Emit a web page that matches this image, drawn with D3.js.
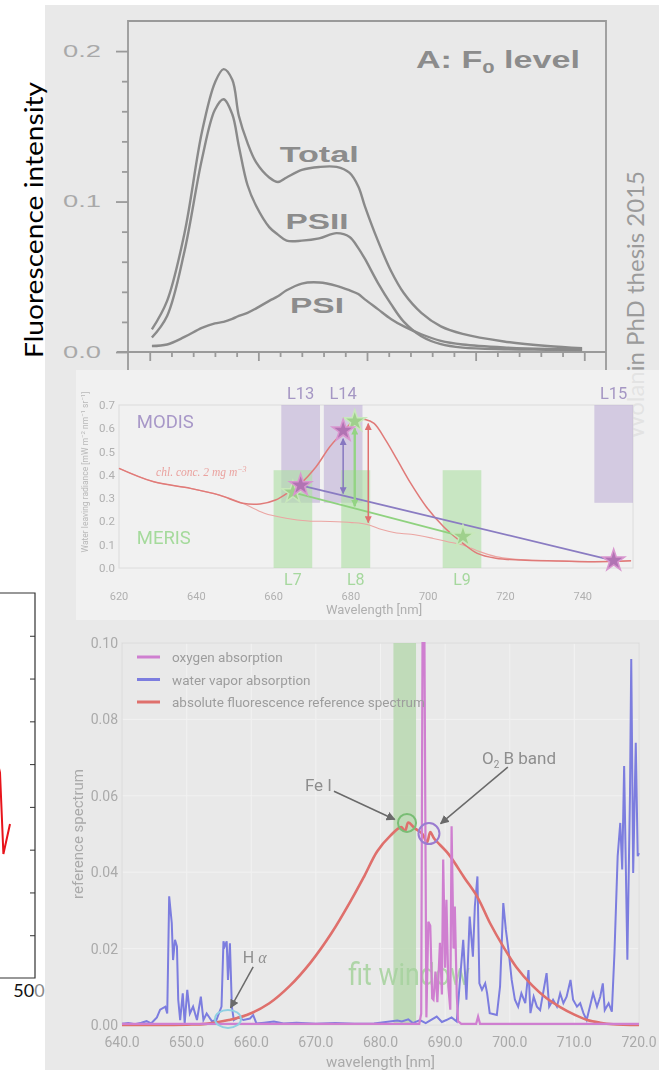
<!DOCTYPE html>
<html><head><meta charset="utf-8">
<script src="https://cdn.jsdelivr.net/npm/d3@7"></script>
<style>
html,body{margin:0;padding:0;background:#fff;}
svg{display:block;}
</style></head><body>
<svg id="fig" width="659" height="1070"></svg>
<script>
// ---------- left spectrum (only its right edge is in view) ----------
const leftTickValues = [1, 2, 3, 4, 5, 6, 7, 8];
const leftSpecWl = [480.5, 482.5, 484.2, 487.5];
const leftSpecVal = [5.2, 4.8, 2.9, 3.6];

// ---------- panel A: F0 level fluorescence spectra ----------
const topWavelength = [651, 658, 666, 674, 680, 684, 688, 691, 695, 699, 705, 709, 713, 720, 728, 736, 742, 746, 749, 755, 761, 767, 775, 784, 794, 813, 833, 849];
const totalF0 = [0.015, 0.034, 0.079, 0.146, 0.179, 0.188, 0.181, 0.157, 0.139, 0.126, 0.116, 0.113, 0.116, 0.121, 0.123, 0.123, 0.119, 0.110, 0.097, 0.074, 0.054, 0.039, 0.026, 0.017, 0.012, 0.007, 0.004, 0.0025];
const psiiF0 = [0.0096, 0.024, 0.067, 0.128, 0.161, 0.168, 0.158, 0.137, 0.111, 0.097, 0.083, 0.078, 0.074, 0.074, 0.0755, 0.079, 0.0765, 0.069, 0.062, 0.046, 0.032, 0.020, 0.0105, 0.0052, 0.0029, 0.0018, 0.0015, 0.0013];
const psiF0 = [0.004, 0.005, 0.010, 0.016, 0.019, 0.020, 0.022, 0.024, 0.026, 0.029, 0.034, 0.037, 0.041, 0.0455, 0.0462, 0.044, 0.041, 0.0385, 0.035, 0.0285, 0.022, 0.017, 0.0118, 0.0074, 0.005, 0.003, 0.002, 0.0018];
const topYMajor = [0, 0.1, 0.2];
const topYMinor = [0.02, 0.04, 0.06, 0.08, 0.12, 0.14, 0.16, 0.18];
const topXMajor = [650, 700, 750, 800, 850];
const topXMinor = [660, 670, 680, 690, 710, 720, 730, 740, 760, 770, 780, 790, 810, 820, 830, 840];

// ---------- water leaving radiance with MODIS / MERIS bands ----------
const radWlHigh = [620, 629, 638.5, 646, 652, 656.5, 660.5, 664, 667, 671, 674.5, 678, 681, 683.7, 686, 689, 692, 695.5, 699.5, 704, 709, 712.7, 717.5, 724, 733.7, 743, 752.5];
const radianceHigh = [0.428, 0.37, 0.342, 0.313, 0.278, 0.275, 0.292, 0.327, 0.363, 0.435, 0.52, 0.585, 0.635, 0.638, 0.621, 0.549, 0.464, 0.363, 0.263, 0.177, 0.106, 0.063, 0.042, 0.034, 0.03, 0.027, 0.031];
const radWlLow = [620, 629, 638.5, 646, 652, 657.6, 663.2, 669, 674.6, 680.3, 684.2, 688, 691.8, 695.6, 701.3, 705, 709, 712.7, 717.5, 724, 733.7, 743, 752.5];
const radianceLow = [0.428, 0.37, 0.342, 0.313, 0.278, 0.235, 0.214, 0.202, 0.2, 0.195, 0.187, 0.165, 0.15, 0.145, 0.127, 0.113, 0.099, 0.074, 0.049, 0.036, 0.03, 0.027, 0.031];
const modisBandNames = ['L13', 'L14', 'L15'];
const modisBandFrom = [662, 673, 743];
const modisBandTo = [672, 683, 753];
const modisBandRange = [0.28, 0.7];
const merisBandNames = ['L7', 'L8', 'L9'];
const merisBandFrom = [660, 677.5, 703.75];
const merisBandTo = [670, 685, 713.75];
const merisBandRange = [0, 0.42];
const modisStarWl = [667, 678, 748];
const modisStarVal = [0.355, 0.59, 0.032];
const merisStarWl = [665, 681, 709];
const merisStarVal = [0.325, 0.63, 0.135];
const heightWl = [678, 681, 684.5];
const heightTop = [0.555, 0.60, 0.62];
const heightBottom = [0.32, 0.265, 0.195];
const radYTicks = [0, 0.1, 0.2, 0.3, 0.4, 0.5, 0.6, 0.7];
const radXTicks = [620, 640, 660, 680, 700, 720, 740];

// ---------- reference spectra ----------
const vaporWl = [640, 641, 642, 643, 643.8, 644.5, 645.4, 645.9, 646.7, 647.0, 647.3, 647.7, 647.9, 648.2, 648.5, 648.7, 649.0, 649.4, 649.7, 650.1, 650.5, 651.0, 651.6, 652.2, 652.6, 653.1, 653.9, 654.6, 655.4, 655.7, 655.9, 656.2, 656.4, 656.7, 657.0, 657.3, 658.0, 658.8, 659.8, 660.3, 660.8, 662, 663.5, 665, 667, 670, 673, 676, 679, 682.6, 683.3, 684.3, 685, 686.1, 687, 688.7, 689.5, 690.2, 691, 691.8, 692.3, 692.8, 693.3, 693.8, 694.3, 694.6, 695.0, 695.3, 695.7, 696.2, 696.5, 696.9, 698.0, 698.5, 699.0, 699.4, 699.8, 700.3, 700.8, 701.3, 701.8, 702.4, 702.9, 703.2, 703.7, 704.2, 704.7, 705.7, 706.1, 706.7, 707.3, 707.8, 708.3, 708.8, 709.4, 709.8, 710.4, 710.9, 711.4, 711.9, 712.4, 712.9, 713.5, 714.0, 714.4, 714.7, 715.3, 715.8, 716.2, 716.7, 717.1, 717.4, 717.7, 718.2, 718.6, 718.8, 719.1, 719.5, 719.8, 720];
const vaporVal = [0.0003, 0.0005, 0.0002, 0.0006, 0.001, 0.0004, 0.002, 0.004, 0.0048, 0.003, 0.0337, 0.0267, 0.017, 0.0223, 0.0206, 0.0066, 0.0013, 0.0083, 0.0004, 0.0092, 0.003, 0.0048, 0.0013, 0.0074, 0.0013, 0.003, 0.001, 0.0013, 0.0048, 0.0219, 0.0206, 0.0219, 0.0118, 0.0214, 0.0048, 0.0013, 0.002, 0.0013, 0.0017, 0.0026, 0.0004, 0.0006, 0.0009, 0.0004, 0.0006, 0.0003, 0.0005, 0.0003, 0.0004, 0.0012, 0.0009, 0.0015, 0.0005, 0.0013, 0.0005, 0.0022, 0.0008, 0.0013, 0.002, 0.0009, 0.0118, 0.0223, 0.0066, 0.0284, 0.0179, 0.0311, 0.0389, 0.0109, 0.0092, 0.0109, 0.0083, 0.0031, 0.0026, 0.0101, 0.0319, 0.0249, 0.0197, 0.0118, 0.0066, 0.0048, 0.0083, 0.0057, 0.0144, 0.0031, 0.0074, 0.0048, 0.0039, 0.0136, 0.0048, 0.0066, 0.0048, 0.0083, 0.0057, 0.0074, 0.0118, 0.0066, 0.0048, 0.0057, 0.0031, 0.0013, 0.0048, 0.0083, 0.0048, 0.0074, 0.0109, 0.0039, 0.0057, 0.0035, 0.0188, 0.0442, 0.0529, 0.0407, 0.0678, 0.0171, 0.0599, 0.0958, 0.0398, 0.0739, 0.0442, 0.045];
const oxygenWl = [640, 686.0, 686.3, 686.5, 686.8, 687.1, 687.4, 687.7, 688.0, 688.2, 688.5, 688.8, 689.2, 689.5, 689.7, 690.0, 690.2, 690.5, 690.8, 691.0, 691.3, 691.5, 691.8, 692.0, 692.5, 694.8, 695.1, 695.4, 720];
const oxygenVal = [0.0003, 0.0003, 0.003, 0.1, 0.1, 0.002, 0.027, 0.026, 0.007, 0.0066, 0.014, 0.006, 0.0215, 0.008, 0.0433, 0.015, 0.0328, 0.01, 0.004, 0.052, 0.02, 0.031, 0.008, 0.001, 0.0003, 0.0003, 0.0022, 0.0003, 0.0003];
const fluorWl = [640, 645, 650, 653, 656.5, 659.3, 662.8, 666, 669.2, 672.4, 675.5, 677.5, 679.5, 681.5, 683.2, 683.8, 684.3, 685.3, 686.5, 687.2, 687.7, 688.3, 690.5, 693, 695, 697, 699, 701, 703.5, 705.7, 707.8, 710, 712, 714, 716, 720];
const fluorVal = [0, 0, 0.0001, 0.0003, 0.0013, 0.0026, 0.0057, 0.0103, 0.0164, 0.024, 0.0328, 0.039, 0.0455, 0.0495, 0.0518, 0.0508, 0.053, 0.0515, 0.05, 0.0478, 0.0505, 0.0488, 0.0448, 0.0385, 0.0335, 0.0265, 0.0205, 0.0152, 0.0103, 0.007, 0.0047, 0.0027, 0.0013, 0.0006, 0.0002, 0];
const fitWindow = [682, 685.5];
const refYTicks = [0, 0.02, 0.04, 0.06, 0.08, 0.10];
const refXTicks = [640, 650, 660, 670, 680, 690, 700, 710, 720];
const legendNames = ['oxygen absorption', 'water vapor absorption', 'absolute fluorescence reference spectrum'];
const legendColors = ['#cf7fd0', '#7c7ddf', '#df6f6c'];

const svg = d3.select('#fig');
const zip = (a, b) => a.map((v, i) => [v, b[i]]);
const SANS = 'Roboto, "Liberation Sans", sans-serif';
const defs = svg.append('defs');

svg.append('rect').attr('width', 659).attr('height', 1070).attr('fill', '#fff');

// ---------- left spectrum ----------
const leftX = d3.scaleLinear().domain([480, 500]).range([-5, 35]);
const leftY = d3.scaleLinear().domain([0, 9]).range([978, 593]);
const leftG = svg.append('g');
leftG.append('path')
  .attr('d', `M-2,${leftY(9)}H${leftX(500)}V${leftY(0)}H-2`)
  .attr('fill', 'none').attr('stroke', '#333').attr('stroke-width', 1.2);
leftG.append('g').attr('transform', `translate(${leftX(500)},0)`)
  .call(d3.axisLeft(leftY).tickValues(leftTickValues).tickSize(5).tickFormat(''))
  .call(g => g.select('.domain').remove())
  .call(g => g.selectAll('line').attr('stroke', '#333'));
leftG.append('path').datum(zip(leftSpecWl, leftSpecVal))
  .attr('d', d3.line().x(d => leftX(d[0])).y(d => leftY(d[1])))
  .attr('fill', 'none').attr('stroke', '#e8141b').attr('stroke-width', 2);
leftG.append('text').attr('x', leftX(500) - 6).attr('y', 997).attr('text-anchor', 'middle')
  .attr('font-family', 'Lato, sans-serif').attr('font-size', 18).attr('fill', '#111')
  .html('50<tspan fill="#8a8a8a">0</tspan>');

// grey backdrop of the right column
svg.append('rect').attr('x', 45).attr('y', 5).attr('width', 614).attr('height', 1065).attr('fill', '#e9e9e9');

svg.append('text').attr('transform', 'translate(43,358) rotate(-90)')
  .attr('font-family', 'Lato, sans-serif').attr('font-size', 25).attr('fill', '#000')
  .attr('textLength', 276).attr('lengthAdjust', 'spacingAndGlyphs')
  .text('Fluorescence intensity');

// ---------- panel A ----------
const topX = d3.scaleLinear().domain([640, 860]).range([128, 606]);
const topY = d3.scaleLinear().domain([0, 0.22]).range([352, 21]);
const panelA = svg.append('g');
const axCol = '#9a9a9a';
panelA.append('path')
  .attr('d', `M${topX(640)},370V${topY(0.22)}H${topX(860)}V370M117,${topY(0)}H${topX(860)}`)
  .attr('fill', 'none').attr('stroke', axCol).attr('stroke-width', 1.8);
panelA.append('g').attr('transform', `translate(${topX(640)},0)`)
  .call(d3.axisLeft(topY).tickValues(topYMajor).tickSize(12).tickPadding(15).tickFormat(d3.format('.1f')))
  .call(g => g.select('.domain').remove())
  .call(g => g.selectAll('line').attr('stroke', axCol).attr('stroke-width', 1.8))
  .call(g => g.selectAll('text').attr('fill', '#a9a9a9').attr('font-size', 16)
    .attr('font-family', 'Liberation Sans, Arial, sans-serif')
    .attr('textLength', 38).attr('lengthAdjust', 'spacingAndGlyphs'));
panelA.append('g').attr('transform', `translate(${topX(640)},0)`)
  .call(d3.axisLeft(topY).tickValues(topYMinor).tickSize(6).tickFormat(''))
  .call(g => g.select('.domain').remove())
  .call(g => g.selectAll('line').attr('stroke', axCol).attr('stroke-width', 1.8));
panelA.append('g').attr('transform', `translate(0,${topY(0)})`)
  .call(d3.axisBottom(topX).tickValues(topXMajor).tickSize(9).tickFormat(''))
  .call(g => g.select('.domain').remove())
  .call(g => g.selectAll('line').attr('stroke', axCol).attr('stroke-width', 1.8));
panelA.append('g').attr('transform', `translate(0,${topY(0)})`)
  .call(d3.axisBottom(topX).tickValues(topXMinor).tickSize(5).tickFormat(''))
  .call(g => g.select('.domain').remove())
  .call(g => g.selectAll('line').attr('stroke', axCol).attr('stroke-width', 1.8));

const topLine = d3.line().x(d => topX(d[0])).y(d => topY(d[1])).curve(d3.curveCatmullRom.alpha(0.5));
[totalF0, psiiF0, psiF0].forEach(series => {
  panelA.append('path').datum(zip(topWavelength, series)).attr('d', topLine)
    .attr('fill', 'none').attr('stroke', '#8a8a8a').attr('stroke-width', 2.4);
});
const bold = sel => sel.attr('font-family', 'Liberation Sans, Arial, sans-serif').attr('font-weight', 'bold')
  .attr('fill', '#8c8c8c').attr('font-size', 22).attr('lengthAdjust', 'spacingAndGlyphs');
panelA.append('text').attr('x', topX(728)).attr('y', topY(0.126)).attr('text-anchor', 'middle').call(bold)
  .attr('textLength', 79).text('Total');
panelA.append('text').attr('x', topX(727)).attr('y', topY(0.0818)).attr('text-anchor', 'middle').call(bold)
  .attr('textLength', 63).text('PSII');
panelA.append('text').attr('x', topX(727)).attr('y', topY(0.026)).attr('text-anchor', 'middle').call(bold)
  .attr('textLength', 54).text('PSI');
panelA.append('text').attr('x', topX(848)).attr('y', topY(0.189)).attr('text-anchor', 'end').call(bold)
  .attr('font-size', 23).attr('textLength', 164)
  .html('A: F<tspan font-size="15" dy="5">0</tspan><tspan dy="-5"> level</tspan>');

// watermark
svg.append('text').attr('transform', 'translate(644,171) rotate(-90)').attr('text-anchor', 'end')
  .attr('font-family', 'Lato, sans-serif').attr('font-size', 24).attr('fill', '#9b9b9b')
  .text('Wolanin PhD thesis 2015');

// ---------- radiance panel ----------
svg.append('rect').attr('x', 76).attr('y', 370).attr('width', 583).attr('height', 250)
  .attr('fill', '#f3f3f3').attr('opacity', 0.82);
const midX = d3.scaleLinear().domain([620, 753]).range([119, 633]);
const midY = d3.scaleLinear().domain([0, 0.7]).range([568, 405]);
defs.append('filter').attr('id', 'soft').append('feGaussianBlur').attr('stdDeviation', 0.45);
function marker(id, color, size) {
  defs.append('marker').attr('id', id).attr('viewBox', '0 0 10 10').attr('refX', 9).attr('refY', 5)
    .attr('markerWidth', size).attr('markerHeight', size).attr('orient', 'auto-start-reverse')
    .attr('markerUnits', 'userSpaceOnUse')
    .append('path').attr('d', 'M0,0L10,5L0,10z').attr('fill', color);
}
marker('arPurple', '#8677c0', 7);
marker('arRed', '#e07070', 7);
marker('arGreen', '#93d483', 7);
marker('arGrey', '#6a6a6a', 9);
const mid = svg.append('g').attr('filter', 'url(#soft)');

mid.append('rect').attr('x', midX(620)).attr('y', midY(0.7)).attr('width', midX(753) - midX(620))
  .attr('height', midY(0) - midY(0.7)).attr('fill', '#f1f1f1').attr('stroke', '#dcdcdc');
modisBandNames.forEach((n, i) => {
  mid.append('rect').attr('x', midX(modisBandFrom[i])).attr('width', midX(modisBandTo[i]) - midX(modisBandFrom[i]))
    .attr('y', midY(modisBandRange[1])).attr('height', midY(modisBandRange[0]) - midY(modisBandRange[1]))
    .attr('fill', '#b9a9d4').attr('opacity', 0.55);
  mid.append('text').attr('x', midX((modisBandFrom[i] + modisBandTo[i]) / 2)).attr('y', 399)
    .attr('text-anchor', 'middle').attr('font-family', SANS).attr('font-size', 16.5).attr('fill', '#a597c4').text(n);
});
merisBandNames.forEach((n, i) => {
  mid.append('rect').attr('x', midX(merisBandFrom[i])).attr('width', midX(merisBandTo[i]) - midX(merisBandFrom[i]))
    .attr('y', midY(merisBandRange[1])).attr('height', midY(merisBandRange[0]) - midY(merisBandRange[1]))
    .attr('fill', '#aee0a4').attr('opacity', 0.6);
  mid.append('text').attr('x', midX((merisBandFrom[i] + merisBandTo[i]) / 2)).attr('y', 585)
    .attr('text-anchor', 'middle').attr('font-family', SANS).attr('font-size', 16).attr('fill', '#a6d89e').text(n);
});
const smallTxt = sel => sel.attr('font-family', SANS).attr('font-size', 11.5).attr('fill', '#b0b0b0');
radYTicks.forEach(t => mid.append('text').attr('x', 115).attr('y', midY(t) + 4).attr('text-anchor', 'end')
  .call(smallTxt).text(d3.format('.1f')(t)));
radXTicks.forEach(t => mid.append('text').attr('x', midX(t)).attr('y', 600).attr('text-anchor', 'middle')
  .call(smallTxt).attr('font-size', 11).text(t));
mid.append('text').attr('x', midX(686)).attr('y', 614).attr('text-anchor', 'middle').call(smallTxt)
  .attr('font-size', 13).text('Wavelength [nm]');
mid.append('text').attr('transform', 'translate(88,472) rotate(-90)').attr('text-anchor', 'middle')
  .call(smallTxt).attr('font-size', 8.5).attr('fill', '#b8b8b8')
  .html('Water leaving radiance [mW m<tspan dy="-3" font-size="6">−2</tspan><tspan dy="3"> nm</tspan><tspan dy="-3" font-size="6">−1</tspan><tspan dy="3"> sr</tspan><tspan dy="-3" font-size="6">−1</tspan><tspan dy="3">]</tspan>');
mid.append('text').attr('x', midX(624.6)).attr('y', midY(0.6)).attr('font-family', SANS)
  .attr('font-size', 18.5).attr('fill', '#a898c8').text('MODIS');
mid.append('text').attr('x', midX(624.6)).attr('y', midY(0.103)).attr('font-family', SANS)
  .attr('font-size', 18.5).attr('fill', '#a5da9c').text('MERIS');
mid.append('text').attr('x', midX(629.6)).attr('y', midY(0.395)).attr('font-family', 'Liberation Serif, serif')
  .attr('font-style', 'italic').attr('font-size', 11.5).attr('fill', '#eaa29f')
  .html('chl. conc. 2 mg m<tspan dy="-4" font-size="8">−3</tspan>');

const midLine = d3.line().x(d => midX(d[0])).y(d => midY(d[1])).curve(d3.curveCatmullRom.alpha(0.5));
mid.append('path').datum(zip(radWlLow, radianceLow)).attr('d', midLine)
  .attr('fill', 'none').attr('stroke', '#eba5a2').attr('stroke-width', 1.1);
mid.append('path').datum(zip(radWlHigh, radianceHigh)).attr('d', midLine)
  .attr('fill', 'none').attr('stroke', '#e07a78').attr('stroke-width', 1.5);
mid.append('line').attr('x1', midX(modisStarWl[0])).attr('y1', midY(modisStarVal[0]))
  .attr('x2', midX(modisStarWl[2])).attr('y2', midY(modisStarVal[2])).attr('stroke', '#8a7cc2').attr('stroke-width', 1.8);
mid.append('line').attr('x1', midX(merisStarWl[0])).attr('y1', midY(merisStarVal[0]))
  .attr('x2', midX(merisStarWl[2])).attr('y2', midY(merisStarVal[2])).attr('stroke', '#8fd27f').attr('stroke-width', 1.8);
const arrowCols = ['#8677c0', '#93d483', '#e07070'];
const arrowIds = ['arPurple', 'arGreen', 'arRed'];
heightWl.forEach((w, i) => {
  mid.append('line').attr('x1', midX(w)).attr('x2', midX(w)).attr('y1', midY(heightTop[i])).attr('y2', midY(heightBottom[i]))
    .attr('stroke', arrowCols[i]).attr('stroke-width', i === 1 ? 2.4 : 1.5)
    .attr('marker-start', `url(#${arrowIds[i]})`).attr('marker-end', `url(#${arrowIds[i]})`);
});
const star = d3.symbol().type(d3.symbolStar).size(150);
merisStarWl.forEach((w, i) => mid.append('path').attr('d', star)
  .attr('transform', `translate(${midX(w)},${midY(merisStarVal[i])})`)
  .attr('fill', '#9fd08c').attr('stroke', '#c8e8bb').attr('stroke-width', 1.5));
modisStarWl.forEach((w, i) => mid.append('path').attr('d', star)
  .attr('transform', `translate(${midX(w)},${midY(modisStarVal[i])})`)
  .attr('fill', '#b173b3').attr('stroke', '#d996cf').attr('stroke-width', 1.5));

// ---------- reference spectra panel ----------
const botX = d3.scaleLinear().domain([640, 720]).range([122, 639]);
const botY = d3.scaleLinear().domain([0, 0.10]).range([1025, 643]);
const bot = svg.append('g').attr('filter', 'url(#soft)');
refXTicks.forEach(t => bot.append('line').attr('x1', botX(t)).attr('x2', botX(t)).attr('y1', botY(0)).attr('y2', botY(0.1))
  .attr('stroke', '#f2f2f2').attr('stroke-width', 1));
refYTicks.forEach(t => bot.append('line').attr('y1', botY(t)).attr('y2', botY(t)).attr('x1', botX(640)).attr('x2', botX(720))
  .attr('stroke', '#f2f2f2').attr('stroke-width', 1));
bot.append('rect').attr('x', botX(640)).attr('y', botY(0.1)).attr('width', botX(720) - botX(640))
  .attr('height', botY(0) - botY(0.1)).attr('fill', 'none').attr('stroke', '#d8d8d8');
bot.append('rect').attr('x', botX(fitWindow[0])).attr('width', botX(fitWindow[1]) - botX(fitWindow[0]))
  .attr('y', botY(0.1)).attr('height', botY(0) - botY(0.1)).attr('fill', '#b5d7ad').attr('opacity', 0.8);
bot.append('text').attr('x', botX(675)).attr('y', botY(0.0105)).attr('font-family', SANS)
  .attr('font-size', 32).attr('textLength', 122).attr('lengthAdjust', 'spacingAndGlyphs')
  .attr('fill', '#a5d29d').attr('opacity', 0.85).text('fit window');

const botLine = d3.line().x(d => botX(d[0])).y(d => botY(d[1]));
bot.append('path').datum(zip(vaporWl, vaporVal)).attr('d', botLine)
  .attr('fill', 'none').attr('stroke', legendColors[1]).attr('stroke-width', 2);
bot.append('path').datum(zip(fluorWl, fluorVal))
  .attr('d', d3.line().x(d => botX(d[0])).y(d => botY(d[1])).curve(d3.curveCatmullRom.alpha(0.5)))
  .attr('fill', 'none').attr('stroke', legendColors[2]).attr('stroke-width', 2.6);
bot.append('path').datum(zip(oxygenWl, oxygenVal)).attr('d', botLine)
  .attr('fill', 'none').attr('stroke', legendColors[0]).attr('stroke-width', 2.2);

const tickTxt = sel => sel.attr('font-family', SANS).attr('font-size', 14).attr('fill', '#aaaaaa');
refYTicks.forEach(t => bot.append('text').attr('x', 118).attr('y', botY(t) + 5).attr('text-anchor', 'end')
  .call(tickTxt).text(d3.format('.2f')(t)));
refXTicks.forEach(t => bot.append('text').attr('x', botX(t)).attr('y', 1047).attr('text-anchor', 'middle')
  .call(tickTxt).text(d3.format('.1f')(t)));
bot.append('text').attr('x', botX(680)).attr('y', 1067).attr('text-anchor', 'middle').call(tickTxt)
  .attr('font-size', 15).text('wavelength [nm]');
bot.append('text').attr('transform', `translate(83,${botY(0.05)}) rotate(-90)`).attr('text-anchor', 'middle')
  .call(tickTxt).attr('font-size', 15).text('reference spectrum');

legendNames.forEach((n, i) => {
  const y = 657 + i * 22.5;
  bot.append('line').attr('x1', 137).attr('x2', 160).attr('y1', y).attr('y2', y)
    .attr('stroke', legendColors[i]).attr('stroke-width', 3);
  bot.append('text').attr('x', 172).attr('y', y + 5).call(tickTxt).attr('font-size', 13.5).attr('fill', '#9d9d9d').text(n);
});

// annotations
const note = sel => sel.attr('font-family', SANS).attr('fill', '#8e8e8e');
bot.append('ellipse').attr('cx', botX(656.4)).attr('cy', botY(0.0016)).attr('rx', 13).attr('ry', 9)
  .attr('fill', 'none').attr('stroke', '#8fd0e2').attr('stroke-width', 2);
bot.append('text').attr('x', botX(658.7)).attr('y', botY(0.0163)).call(note).attr('font-size', 16)
  .html('H <tspan font-family="Liberation Serif, serif" font-style="italic">α</tspan>');
bot.append('line').attr('x1', botX(660.3)).attr('y1', botY(0.0152)).attr('x2', botX(656.8)).attr('y2', botY(0.0045))
  .attr('stroke', '#6a6a6a').attr('stroke-width', 1.5).attr('marker-end', 'url(#arGrey)');

bot.append('circle').attr('cx', botX(684.1)).attr('cy', botY(0.0529)).attr('r', 9)
  .attr('fill', 'none').attr('stroke', '#79bd74').attr('stroke-width', 2);
bot.append('text').attr('x', botX(668.3)).attr('y', botY(0.0612)).call(note).attr('font-size', 17).text('Fe I');
bot.append('line').attr('x1', botX(672.8)).attr('y1', botY(0.0612)).attr('x2', botX(682.2)).attr('y2', botY(0.0538))
  .attr('stroke', '#6a6a6a').attr('stroke-width', 1.5).attr('marker-end', 'url(#arGrey)');

bot.append('circle').attr('cx', botX(687.5)).attr('cy', botY(0.0501)).attr('r', 10.5)
  .attr('fill', 'none').attr('stroke', '#9a7cd0').attr('stroke-width', 2);
bot.append('text').attr('x', botX(695.7)).attr('y', botY(0.0682)).call(note).attr('font-size', 17)
  .html('O<tspan font-size="10" dy="4">2</tspan><tspan dy="-4"> B band</tspan>');
bot.append('line').attr('x1', botX(699.7)).attr('y1', botY(0.0675)).attr('x2', botX(689.3)).attr('y2', botY(0.0527))
  .attr('stroke', '#6a6a6a').attr('stroke-width', 1.5).attr('marker-end', 'url(#arGrey)');
</script></body></html>
